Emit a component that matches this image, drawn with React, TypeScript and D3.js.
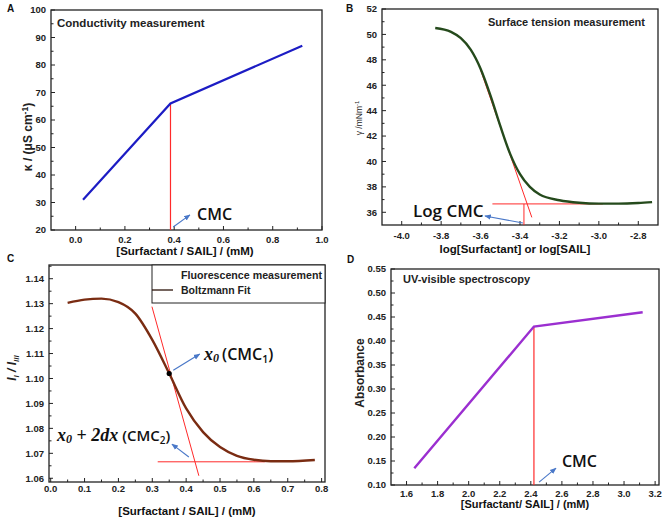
import * as d3 from "d3";
import React from "react";

const W = 669;
const H = 520;

// ── Panel A: conductivity ─────────────────────────────
const condX = [0.03, 0.385, 0.92];
const condY = [31, 66, 87];
const condCmc = 0.385;
const condXTicks = [0.0, 0.2, 0.4, 0.6, 0.8, 1.0];
const condYTicks = [20, 30, 40, 50, 60, 70, 80, 90, 100];

// ── Panel B: surface tension ──────────────────────────
const stX = [-3.83, -3.75, -3.7, -3.65, -3.6, -3.55, -3.5, -3.45, -3.4, -3.35, -3.3, -3.2, -3.1, -3.0, -2.9, -2.8, -2.73];
const stY = [50.5, 50.2, 49.7, 48.8, 47.3, 45.2, 42.8, 40.6, 39.0, 38.0, 37.4, 36.95, 36.75, 36.68, 36.68, 36.73, 36.8];
const stTangent = [[-3.6, 47.2], [-3.34, 35.6]];
const stPlateau = [[-3.54, 36.66], [-2.98, 36.66]];
const stCmc = -3.38;
const stXTicks = [-4.0, -3.8, -3.6, -3.4, -3.2, -3.0, -2.8];
const stYTicks = [36, 38, 40, 42, 44, 46, 48, 50, 52];

// ── Panel C: fluorescence ─────────────────────────────
const flX = [0.05, 0.1, 0.15, 0.2, 0.25, 0.3, 0.35, 0.4, 0.45, 0.5, 0.55, 0.6, 0.65, 0.7, 0.78];
const flY = [1.1303, 1.1316, 1.132, 1.1306, 1.126, 1.1155, 1.102, 1.088, 1.0785, 1.0725, 1.069, 1.0674, 1.0668, 1.0668, 1.0673];
const flTangent = [[0.299, 1.1288], [0.4375, 1.061]];
const flPlateau = [[0.316, 1.0666], [0.632, 1.0666]];
const flX0 = [0.35, 1.102];
const flXTicks = [0.0, 0.1, 0.2, 0.3, 0.4, 0.5, 0.6, 0.7, 0.8];
const flYTicks = [1.06, 1.07, 1.08, 1.09, 1.1, 1.11, 1.12, 1.13, 1.14];

// ── Panel D: UV-vis ───────────────────────────────────
const uvX = [1.65, 2.42, 3.12];
const uvY = [0.135, 0.43, 0.46];
const uvCmc = 2.42;
const uvXTicks = [1.6, 1.8, 2.0, 2.2, 2.4, 2.6, 2.8, 3.0, 3.2];
const uvYTicks = [0.1, 0.15, 0.2, 0.25, 0.3, 0.35, 0.4, 0.45, 0.5, 0.55];

const ARIAL = "Arial, 'Liberation Sans', sans-serif";
const SANS = "'Open Sans', 'Noto Sans', sans-serif";
const SERIF = "'Liberation Serif', 'DejaVu Serif', serif";
const RED = "#ff2a2a";
const BLUE = "#4a78c8";

type Frame = { x0: number; x1: number; y0: number; y1: number };

function Axes({ f, x, y, xTicks, yTicks, xFmt, yFmt, xOff }: any) {
  // minor ticks halfway between the majors
  const xs = xTicks[1] - xTicks[0];
  const ys = yTicks[1] - yTicks[0];
  const xMinor: number[] = [];
  for (let v = xTicks[0] - xs / 2; v <= xTicks[xTicks.length - 1] + xs; v += xs) {
    if (x(v) > f.x0 + 0.5 && x(v) < f.x1 - 0.5) xMinor.push(v);
  }
  const yMinor: number[] = [];
  for (let v = yTicks[0] - ys / 2; v <= yTicks[yTicks.length - 1] + ys; v += ys) {
    if (y(v) < f.y1 - 0.5 && y(v) > f.y0 + 0.5) yMinor.push(v);
  }
  return (
    <g>
      <rect x={f.x0} y={f.y0} width={f.x1 - f.x0} height={f.y1 - f.y0} fill="none" stroke="#222" strokeWidth={1.3} />
      {xTicks.map((t: number) => (
        <g key={"xt" + t}>
          <line x1={x(t)} x2={x(t)} y1={f.y1} y2={f.y1 - 4} stroke="#222" />
          <text x={x(t)} y={f.y1 + xOff} textAnchor="middle" fontSize={9.5} fontWeight="bold" fontFamily={ARIAL} fill="#222">
            {xFmt(t)}
          </text>
        </g>
      ))}
      {xMinor.map((t) => (
        <line key={"xm" + t} x1={x(t)} x2={x(t)} y1={f.y1} y2={f.y1 - 2.5} stroke="#222" />
      ))}
      {yTicks.map((t: number) => (
        <g key={"yt" + t}>
          <line x1={f.x0} x2={f.x0 + 4} y1={y(t)} y2={y(t)} stroke="#222" />
          <text x={f.x0 - 5} y={y(t) + 3.3} textAnchor="end" fontSize={9.5} fontWeight="bold" fontFamily={ARIAL} fill="#222">
            {yFmt(t)}
          </text>
        </g>
      ))}
      {yMinor.map((t) => (
        <line key={"ym" + t} x1={f.x0} x2={f.x0 + 2.5} y1={y(t)} y2={y(t)} stroke="#222" />
      ))}
    </g>
  );
}

function Arrow({ from, to }: { from: number[]; to: number[] }) {
  return <line x1={from[0]} y1={from[1]} x2={to[0]} y2={to[1]} stroke={BLUE} strokeWidth={1.1} markerEnd="url(#arr)" />;
}

export default function App() {
  // ── Panel A ──
  const fA: Frame = { x0: 51, x1: 322, y0: 10, y1: 230 };
  const xA = d3.scaleLinear().domain([-0.1, 1.0]).range([fA.x0, fA.x1]);
  const yA = d3.scaleLinear().domain([20, 100]).range([fA.y1, fA.y0]);
  const lineA = d3.line<number>().x((_, i) => xA(condX[i])).y((d) => yA(d));

  // ── Panel B ──
  const fB: Frame = { x0: 382, x1: 658, y0: 9, y1: 225 };
  const xB = d3.scaleLinear().domain([-4.1, -2.7]).range([fB.x0, fB.x1]);
  const yB = d3.scaleLinear().domain([35, 52]).range([fB.y1, fB.y0]);
  const lineB = d3.line<number>().x((_, i) => xB(stX[i])).y((d) => yB(d)).curve(d3.curveMonotoneX);
  const seg = (xs: any, ys: any) => d3.line<number[]>().x((d) => xs(d[0])).y((d) => ys(d[1]));

  // ── Panel C ──
  const fC: Frame = { x0: 49, x1: 325, y0: 265, y1: 482 };
  const xC = d3.scaleLinear().domain([-0.005, 0.81]).range([fC.x0, fC.x1]);
  const yC = d3.scaleLinear().domain([1.0585, 1.1455]).range([fC.y1, fC.y0]);
  const lineC = d3.line<number>().x((_, i) => xC(flX[i])).y((d) => yC(d)).curve(d3.curveMonotoneX);

  // ── Panel D ──
  const fD: Frame = { x0: 391, x1: 659, y0: 269, y1: 485 };
  const xD = d3.scaleLinear().domain([1.5, 3.225]).range([fD.x0, fD.x1]);
  const yD = d3.scaleLinear().domain([0.1, 0.55]).range([fD.y1, fD.y0]);
  const lineD = d3.line<number>().x((_, i) => xD(uvX[i])).y((d) => yD(d));

  const f1 = d3.format(".1f");
  const f2 = d3.format(".2f");
  const fi = d3.format("d");
  const fneg = (v: number) => f1(v).replace("−", "-");

  return (
    <svg width={W} height={H} style={{ position: "absolute", left: 0, top: 0, background: "#fff" }}>
      <defs>
        <marker id="arr" viewBox="0 0 10 10" refX="9" refY="5" markerWidth="6" markerHeight="6" orient="auto-start-reverse">
          <path d="M0,1 L10,5 L0,9 z" fill={BLUE} />
        </marker>
      </defs>

      {/* Panel letters */}
      <g fontFamily={ARIAL} fontWeight="bold" fontSize={10} fill="#111">
        <text x={7} y={12}>A</text>
        <text x={346} y={12}>B</text>
        <text x={7} y={262}>C</text>
        <text x={347} y={263}>D</text>
      </g>

      {/* ── A ── */}
      <Axes f={fA} x={xA} y={yA} xTicks={condXTicks} yTicks={condYTicks} xFmt={f1} yFmt={fi} xOff={12.5} />
      <line x1={xA(condCmc)} x2={xA(condCmc)} y1={yA(20)} y2={yA(66)} stroke={RED} strokeWidth={1.2} />
      <path d={lineA(condY) ?? ""} fill="none" stroke="#1c1cc4" strokeWidth={2.2} />
      <text x={57} y={27} fontSize={11.5} fontWeight="bold" fontFamily={ARIAL} fill="#222">Conductivity measurement</text>
      <Arrow from={[xA(0.396), yA(21.1)]} to={[xA(0.464), yA(25.5)]} />
      <text x={xA(0.493)} y={yA(23.6)} fontSize={16} fontWeight={600} fontFamily={SANS} fill="#111">CMC</text>
      <text transform="translate(32,137) rotate(-90)" textAnchor="middle" fontSize={12} fontWeight="bold" fontFamily={ARIAL} fill="#222">
        κ / (μS cm<tspan dy={-4} fontSize={8.5}>-1</tspan><tspan dy={4}>)</tspan>
      </text>
      <text x={185} y={254.5} textAnchor="middle" fontSize={11.5} fontWeight="bold" fontFamily={ARIAL} fill="#111">[Surfactant / SAIL] / (mM)</text>

      {/* ── B ── */}
      <Axes f={fB} x={xB} y={yB} xTicks={stXTicks} yTicks={stYTicks} xFmt={fneg} yFmt={fi} xOff={13.5} />
      <path d={seg(xB, yB)(stTangent) ?? ""} stroke={RED} strokeWidth={1} fill="none" />
      <path d={seg(xB, yB)(stPlateau) ?? ""} stroke={RED} strokeWidth={1} fill="none" />
      <line x1={xB(stCmc)} x2={xB(stCmc)} y1={yB(35)} y2={yB(36.66)} stroke={RED} strokeWidth={1} />
      <path d={lineB(stY) ?? ""} fill="none" stroke="#254a1c" strokeWidth={2.4} />
      <text x={645} y={26} textAnchor="end" fontSize={11} fontWeight="bold" fontFamily={ARIAL} fill="#222">Surface tension measurement</text>
      <Arrow from={[xB(-3.385), yB(35.16)]} to={[xB(-3.578), yB(35.71)]} />
      <text x={xB(-3.943)} y={yB(35.63)} fontSize={17} fontWeight={600} fontFamily={SANS} fill="#111">Log CMC</text>
      <text transform="translate(362,118) rotate(-90)" textAnchor="middle" fontSize={8.5} fontFamily={ARIAL} fill="#222">
        γ /mNm<tspan dy={-3} fontSize={6}>-1</tspan>
      </text>
      <text x={515} y={253} textAnchor="middle" fontSize={11.5} fontWeight="bold" fontFamily={ARIAL} fill="#111">log[Surfactant] or log[SAIL]</text>

      {/* ── C ── */}
      <Axes f={fC} x={xC} y={yC} xTicks={flXTicks} yTicks={flYTicks} xFmt={f1} yFmt={f2} xOff={10} />
      <path d={seg(xC, yC)(flTangent) ?? ""} stroke={RED} strokeWidth={1} fill="none" />
      <path d={seg(xC, yC)(flPlateau) ?? ""} stroke={RED} strokeWidth={1} fill="none" />
      <path d={lineC(flY) ?? ""} fill="none" stroke="#7a2c12" strokeWidth={2.4} />
      <circle cx={xC(flX0[0])} cy={yC(flX0[1])} r={2.6} fill="#000" />
      <rect x={152} y={265} width={173} height={38} fill="#fff" stroke="#222" strokeWidth={1} />
      <line x1={152} x2={173} y1={290} y2={290} stroke="#2a1208" strokeWidth={1.3} />
      <g fontSize={10.5} fontWeight="bold" fontFamily={ARIAL} fill="#222">
        <text x={181} y={279} textLength={141} lengthAdjust="spacingAndGlyphs">Fluorescence measurement</text>
        <text x={181} y={294}>Boltzmann Fit</text>
      </g>
      <Arrow from={[xC(0.362), yC(1.1033)]} to={[xC(0.44), yC(1.1098)]} />
      <text x={xC(0.453)} y={yC(1.1074)} fill="#111">
        <tspan fontFamily={SERIF} fontStyle="italic" fontWeight="bold" fontSize={18}>x</tspan>
        <tspan fontFamily={SERIF} fontStyle="italic" fontWeight="bold" fontSize={12} dy={2}>0</tspan>
        <tspan fontFamily={SANS} fontWeight={600} fontSize={16} dy={-2} dx={3}>(CMC</tspan>
        <tspan fontFamily={SANS} fontWeight={600} fontSize={10.5} dy={3}>1</tspan>
        <tspan fontFamily={SANS} fontWeight={600} fontSize={16} dy={-3}>)</tspan>
      </text>
      <Arrow from={[xC(0.408), yC(1.0685)]} to={[xC(0.358), yC(1.0737)]} />
      <text x={xC(0.0186)} y={yC(1.0749)} fill="#111">
        <tspan fontFamily={SERIF} fontStyle="italic" fontWeight="bold" fontSize={18}>x</tspan>
        <tspan fontFamily={SERIF} fontStyle="italic" fontWeight="bold" fontSize={12} dy={2}>0</tspan>
        <tspan fontFamily={SERIF} fontWeight="bold" fontSize={18} dy={-2}> + </tspan>
        <tspan fontFamily={SERIF} fontStyle="italic" fontWeight="bold" fontSize={18}>2dx</tspan>
        <tspan fontFamily={SANS} fontWeight={600} fontSize={15} dx={4}>(CMC</tspan>
        <tspan fontFamily={SANS} fontWeight={600} fontSize={10} dy={3}>2</tspan>
        <tspan fontFamily={SANS} fontWeight={600} fontSize={15} dy={-3}>)</tspan>
      </text>
      <text transform="translate(16,368) rotate(-90)" textAnchor="middle" fontSize={12} fontWeight="bold" fontStyle="italic" fontFamily={ARIAL} fill="#222">
        I<tspan fontSize={8} dy={3}>I</tspan><tspan dy={-3}>{"  /  "}I</tspan><tspan fontSize={8} dy={3}>III</tspan>
      </text>
      <text x={187} y={515} textAnchor="middle" fontSize={11.5} fontWeight="bold" fontFamily={ARIAL} fill="#111">[Surfactant / SAIL] / (mM)</text>

      {/* ── D ── */}
      <Axes f={fD} x={xD} y={yD} xTicks={uvXTicks} yTicks={uvYTicks} xFmt={f1} yFmt={f2} xOff={12} />
      <line x1={xD(uvCmc)} x2={xD(uvCmc)} y1={yD(0.1)} y2={yD(0.43)} stroke={RED} strokeWidth={1.2} />
      <path d={lineD(uvY) ?? ""} fill="none" stroke="#9b2fd0" strokeWidth={2.4} />
      <text x={403} y={283} fontSize={11} fontWeight="bold" fontFamily={ARIAL} fill="#222">UV-visible spectroscopy</text>
      <Arrow from={[xD(2.453), yD(0.106)]} to={[xD(2.562), yD(0.135)]} />
      <text x={xD(2.6)} y={yD(0.1375)} fontSize={16} fontWeight={600} fontFamily={SANS} fill="#111">CMC</text>
      <text transform="translate(364,373) rotate(-90)" textAnchor="middle" fontSize={12} fontWeight="bold" fontFamily={ARIAL} fill="#222">Absorbance</text>
      <text x={525} y={508} textAnchor="middle" fontSize={11} fontWeight="bold" fontFamily={ARIAL} fill="#111">[Surfactant/ SAIL] / (mM)</text>
    </svg>
  );
}
